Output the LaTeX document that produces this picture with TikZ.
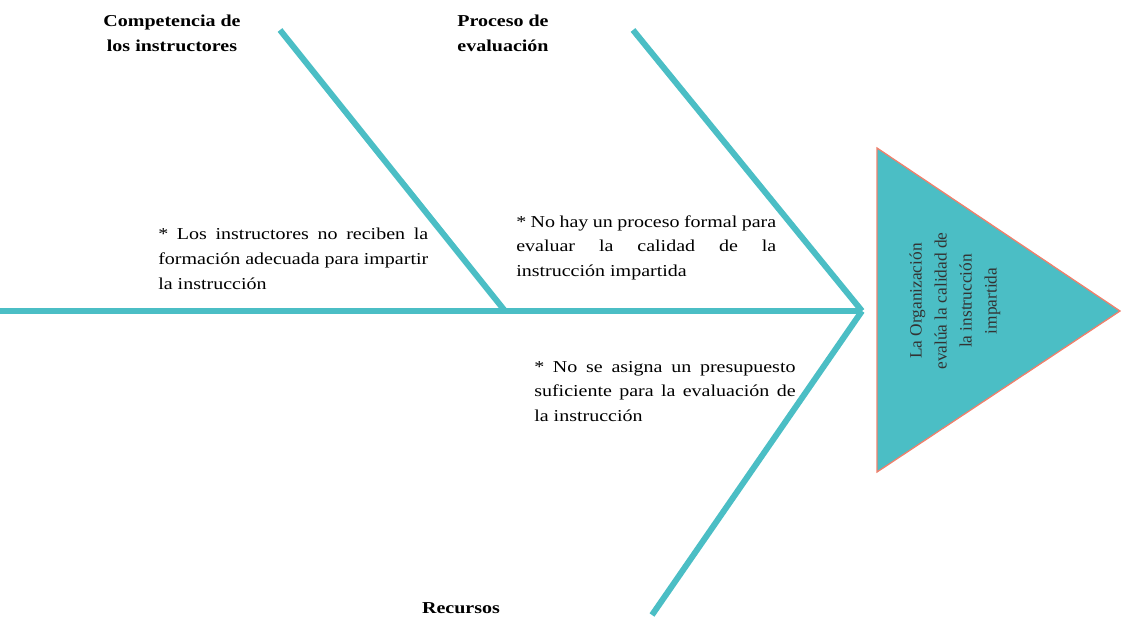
\documentclass[tikz,border=0pt]{standalone}
\usepackage{fontspec}
\setmainfont{Liberation Serif}[FakeStretch=1.2]
\newfontfamily\plainserif{Liberation Serif}
\usepackage{tikz}
\definecolor{bone}{RGB}{75,190,197}
\definecolor{edge}{RGB}{240,128,108}
\tikzset{
  bonestyle/.style={draw=bone,line width=4.5pt},
  cause/.style={font=\fontsize{12.5}{18.5}\selectfont\bfseries,align=center,inner sep=0},
  detail/.style={font=\fontsize{12.5}{18.5}\selectfont,anchor=north west,inner sep=0,align=justify}
}

\begin{document}
\begin{tikzpicture}[x=0.75pt,y=-0.75pt]
\useasboundingbox (0,0) rectangle (1122,632);
% spine and bones
\coordinate (S0) at (0,311);
\coordinate (Head) at (862,311);
\coordinate (J1) at (505,311);
\coordinate (T1) at (280,30);
\coordinate (T2) at (633,30);
\coordinate (B3) at (652,615);
\draw[bonestyle] (S0) -- (Head);
\draw[bonestyle] (T1) -- (J1);
\draw[bonestyle] (T2) -- (Head);
\draw[bonestyle] (Head) -- (B3);
% effect
\coordinate (E1) at (877,148);
\coordinate (E2) at (1120,311);
\coordinate (E3) at (877,472);
\draw[fill=bone,draw=edge,line width=1pt] (E1) -- (E2) -- (E3) -- cycle;
\node (Eff) at (955,301) [rotate=90,align=center,inner sep=0,text=black!80,
  font=\plainserif\fontsize{13}{18.75}\selectfont]
  {La Organización\\evalúa la calidad de\\la instrucción\\impartida};
% causes
\node (C1) at (172,33) [cause] {Competencia de\\los instructores};
\node (C2) at (503,33) [cause] {Proceso de\\evaluación};
\node (C3) at (461,608) [cause] {Recursos};
% details
\node (D1) at (158,228) [detail,text width=202.5pt]
  {* Los instructores no reciben la\linebreak formación adecuada para impartir\linebreak la instrucción};
\node (D2) at (516,215) [detail,text width=195pt]
  {* No hay un proceso formal para\linebreak evaluar la calidad de la\linebreak instrucción impartida};
\node (D3) at (534,361) [detail,text width=196pt]
  {* No se asigna un presupuesto\linebreak suficiente para la evaluación de\linebreak la instrucción};
\end{tikzpicture}
\end{document}
